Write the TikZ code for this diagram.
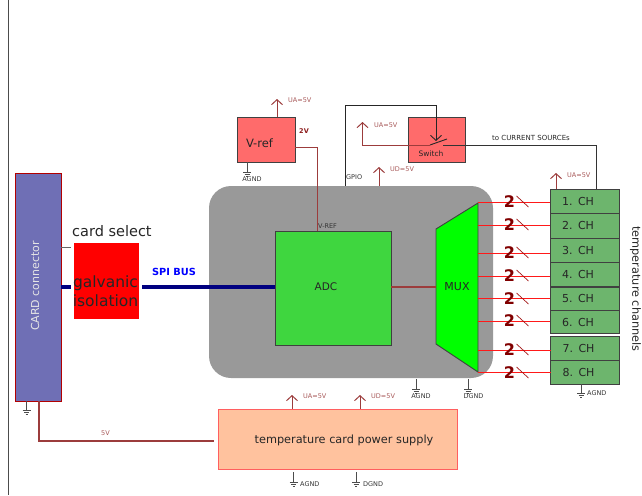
\documentclass[tikz,border=0pt]{standalone}
\usepackage{fontspec}
\setmainfont{DejaVu Sans}
\usetikzlibrary{arrows.meta}
\definecolor{darkwire}{HTML}{8B1A1A}
\definecolor{palewire}{HTML}{A85A5A}
\definecolor{boxred}{HTML}{FF6B6B}
\definecolor{boxborder}{HTML}{FF5F5F}
\definecolor{chgreen}{HTML}{6DB56D}
\definecolor{adcgreen}{HTML}{3FD63F}
\definecolor{cardblue}{HTML}{6F6FB5}
\definecolor{supply}{HTML}{FFC29E}
\tikzset{
  block/.style={draw=black!75,line width=0.9pt,inner sep=0pt,outer sep=0pt,text=black!85},
  chbox/.style={block,fill=chgreen,minimum width=69pt,text width=45pt,align=left,font=\fontsize{11}{12}\selectfont},
  tiny/.style={inner sep=0pt,font=\fontsize{6.5}{7}\selectfont,text=black!80},
  volt/.style={tiny,text=palewire},
  uparrow/.style={draw=darkwire!85,line width=1pt,-{Straight Barb[length=5pt,width=11pt]}},
  wire/.style={draw=darkwire!85,line width=0.9pt},
  chline/.style={draw=red!90,line width=1pt},
  two/.style={inner sep=0pt,text=red!50!black,font=\bfseries\fontsize{16}{17}\selectfont},
  notch/.style={draw=darkwire!80!red,line width=0.7pt},
  gndline/.style={draw=black!70,line width=0.9pt},
  gndbars/.pic={
    \draw[gndline] (-4,0) -- (4,0);
    \draw[gndline] (-2.5,2) -- (2.5,2);
    \draw[gndline] (-1,4) -- (1,4);
  }
}
\begin{document}
\begin{tikzpicture}[x=1pt,y=-1pt]
\useasboundingbox (0,0) rectangle (642,495);
\coordinate (edgetop) at (8,0);
\coordinate (edgebot) at (8,495);
\draw[black!70,line width=1pt] (edgetop) -- (edgebot);

% main board
\node[inner sep=0pt,fill=black!40,rounded corners=22pt,minimum width=284pt,minimum height=192pt] (board) at (351,282) {};
\node[block,fill=adcgreen,minimum width=116pt,minimum height=114pt] (adc) at (333,288) {};
\node[inner sep=0pt,text=black!85,font=\fontsize{10.5}{12}\selectfont] (adctext) at (326,287) {ADC};
\coordinate (muxa) at (436,229);
\coordinate (muxb) at (478,203);
\coordinate (muxc) at (478,372);
\coordinate (muxd) at (436,344);
\draw[block,fill=green] (muxa) -- (muxb) -- (muxc) -- (muxd) -- cycle;
\node[inner sep=0pt,font=\fontsize{11}{12}\selectfont,text=black!85] (mux) at (457,287) {MUX};
\coordinate (adcout) at (436,287);
\draw[wire,line width=2pt] (adc.east |- adcout) -- (adcout);

% left side
\node[draw=red!70!black,line width=0.9pt,fill=cardblue,inner sep=0pt,minimum width=46pt,minimum height=228pt] (card) at (38,287) {};
\node[inner sep=0pt,rotate=90,text=black!10,font=\fontsize{11}{12}\selectfont] (cardtext) at (35,286) {CARD connector};
\node[fill=red,inner sep=0pt,minimum width=65pt,minimum height=76pt] (iso) at (106.5,281) {};
\node[inner sep=0pt,align=center,text=black!85,font=\fontsize{15.5}{19}\selectfont] (isotext) at (105.5,291) {galvanic\\isolation};
\node[inner sep=0pt,anchor=west,text=black!85,font=\fontsize{14.5}{16}\selectfont] (select) at (72,231) {card select};
\coordinate (selectend) at (71,247);
\draw[black!60,line width=0.6pt] (card.east |- selectend) -- (selectend);
\coordinate (isoleft) at (71,287);
\coordinate (isoright) at (142,287);
\draw[blue!50!black,line width=4.5pt] (card.east |- isoleft) -- (isoleft);
\draw[blue!50!black,line width=4.5pt] (isoright) -- (adc.west |- isoright);
\node[inner sep=0pt,text=blue,font=\bfseries\fontsize{9.8}{11}\selectfont] (spi) at (174,272) {SPI BUS};

% v-ref
\node[block,fill=boxred,minimum width=58pt,minimum height=45pt] (vref) at (266,139.5) {};
\node[inner sep=0pt,text=black!85,font=\fontsize{11.5}{13}\selectfont] (vreftext) at (259.5,143) {V-ref};
\node[inner sep=0pt,text=darkwire,font=\bfseries\fontsize{6.5}{7}\selectfont] (twov) at (304,131) {2V};
\coordinate (vrefcorner) at (317,147);
\draw[wire] (vref.east |- vrefcorner) -- (vrefcorner) -- (vrefcorner |- adc.north);
\node[tiny,anchor=west] (vreflabel) at (318,226) {V-REF};
\coordinate (vrefua) at (277,99);
\draw[uparrow] (vrefua |- vref.north) -- (vrefua);
\node[volt,anchor=west] (vrefuatext) at (288,100.5) {UA=5V};
\coordinate (vrefgnd) at (247,162);
\draw[gndline] (vrefgnd) -- ++(0,10) pic {gndbars};
\node[tiny] (vrefagnd) at (252,179) {AGND};

% switch
\node[block,fill=boxred,minimum width=57pt,minimum height=45pt] (switch) at (436.5,139.5) {};
\node[inner sep=0pt,font=\fontsize{7.5}{8}\selectfont,text=black!85] (switchtext) at (431,154) {Switch};
\coordinate (gpiocorner) at (345.5,105.5);
\coordinate (gpiotop) at (436,105.5);
\coordinate (gpioend) at (436,141);
\draw[black!85,line width=0.9pt,-{Straight Barb[length=5pt,width=11pt]}] (gpiocorner |- board.north) -- (gpiocorner) -- (gpiotop) -- (gpioend);
\node[tiny,anchor=west] (gpio) at (346,177) {GPIO};
\coordinate (swleft) at (430,145);
\coordinate (swlever) at (447,139);
\coordinate (swright) at (443,145);
\coordinate (swua) at (362.5,122);
\draw[uparrow] (swleft) -- (swua |- swleft) -- (swua);
\draw[black!85,line width=0.9pt] (swleft) -- (swlever);
\node[volt,anchor=west] (swuatext) at (374,125.5) {UA=5V};
\coordinate (udtop) at (379,167);
\draw[uparrow] (udtop |- board.north) -- (udtop);
\node[volt,anchor=west] (udtext) at (390,169) {UD=5V};

% channels
\node[chbox,minimum height=24pt] (ch1) at (584.5,201) {1. CH};
\node[chbox,minimum height=25pt] (ch2) at (584.5,225.5) {2. CH};
\node[chbox,minimum height=24pt] (ch3) at (584.5,250) {3. CH};
\node[chbox,minimum height=24pt] (ch4) at (584.5,274) {4. CH};
\node[chbox,minimum height=23pt] (ch5) at (584.5,298.5) {5. CH};
\node[chbox,minimum height=23pt] (ch6) at (584.5,322) {6. CH};
\node[chbox,minimum height=24pt] (ch7) at (585,348) {7. CH};
\node[chbox,minimum height=24pt] (ch8) at (585,372) {8. CH};
\coordinate (cs) at (596,145);
\draw[black!80,line width=0.7pt] (swright) -- (cs) -- (cs |- ch1.north);
\node[tiny,text=black!85,font=\fontsize{7}{8}\selectfont] (cstext) at (531,137.5) {to CURRENT SOURCEs};
\coordinate (chua) at (556,173);
\draw[uparrow] (chua |- ch1.north) -- (chua);
\node[volt,anchor=west] (chuatext) at (567,175) {UA=5V};
\coordinate (chgnd) at (581,384);
\draw[gndline] (chgnd) -- ++(0,9) pic {gndbars};
\node[tiny,anchor=west] (chagnd) at (587,393.5) {AGND};
\node[inner sep=0pt,rotate=-90,text=black!85,font=\fontsize{11.3}{12}\selectfont] (chtext) at (635.5,289) {temperature channels};

\coordinate (m1) at (478,202);
\coordinate (m2) at (478,225);
\coordinate (m3) at (478,253);
\coordinate (m4) at (478,276);
\coordinate (m5) at (478,298);
\coordinate (m6) at (478,321);
\coordinate (m7) at (478,350);
\coordinate (m8) at (478,372);
\draw[chline] (m1) -- (m1 -| ch1.west);
\draw[chline] (m2) -- (m2 -| ch2.west);
\draw[chline] (m3) -- (m3 -| ch3.west);
\draw[chline] (m4) -- (m4 -| ch4.west);
\draw[chline] (m5) -- (m5 -| ch5.west);
\draw[chline] (m6) -- (m6 -| ch6.west);
\draw[chline] (m7) -- (m7 -| ch7.west);
\draw[chline] (m8) -- (m8 -| ch8.west);
\node[two] (n1) at (509.5,202) {2};
\node[two] (n2) at (509.5,225) {2};
\node[two] (n3) at (509.5,253) {2};
\node[two] (n4) at (509.5,276) {2};
\node[two] (n5) at (509.5,299) {2};
\node[two] (n6) at (509.5,321) {2};
\node[two] (n7) at (509.5,350) {2};
\node[two] (n8) at (509.5,373) {2};
\draw[notch] (n1.center) ++(7,-6) -- ++(12,11);
\draw[notch] (n2.center) ++(7,-6) -- ++(12,11);
\draw[notch] (n3.center) ++(7,-6) -- ++(12,11);
\draw[notch] (n4.center) ++(7,-6) -- ++(12,11);
\draw[notch] (n5.center) ++(7,-6) -- ++(12,11);
\draw[notch] (n6.center) ++(7,-6) -- ++(12,11);
\draw[notch] (n7.center) ++(7,-6) -- ++(12,11);
\draw[notch] (n8.center) ++(7,-6) -- ++(12,11);

% board grounds
\coordinate (boardagnd) at (416,379);
\coordinate (boarddgnd) at (468,379);
\draw[gndline] (boardagnd) -- ++(0,10) pic {gndbars};
\draw[gndline] (boarddgnd) -- ++(0,10) pic {gndbars};
\node[tiny] (agndtext) at (421,396) {AGND};
\node[tiny] (dgndtext) at (473.5,396) {DGND};

% power supply
\node[draw=boxborder,line width=1pt,fill=supply,inner sep=0pt,minimum width=239pt,minimum height=60pt] (power) at (337.5,439) {};
\node[inner sep=0pt,text=black!85,font=\fontsize{11.3}{13}\selectfont] (powertext) at (344,440) {temperature card power supply};
\coordinate (fivecorner) at (38.5,440.5);
\coordinate (fiveend) at (214,440.5);
\draw[wire,line width=2pt] (fivecorner |- card.south) -- (fivecorner) -- (fiveend);
\node[volt] (fivev) at (105.5,433) {5V};
\coordinate (cardgnd) at (26.5,401);
\draw[gndline] (cardgnd) -- ++(0,9) pic {gndbars};
\coordinate (powerua) at (292,395);
\coordinate (powerud) at (360,395);
\draw[uparrow] (powerua |- power.north) -- (powerua);
\draw[uparrow] (powerud |- power.north) -- (powerud);
\node[volt,anchor=west] (powerutext) at (303,396.5) {UA=5V};
\node[volt,anchor=west] (powerdtext) at (371,396.5) {UD=5V};
\coordinate (poweragnd) at (293.5,472);
\coordinate (powerdgnd) at (356,472);
\draw[gndline] (poweragnd) -- ++(0,10) pic {gndbars};
\draw[gndline] (powerdgnd) -- ++(0,10) pic {gndbars};
\node[tiny,anchor=west] (agndlow) at (300,484.5) {AGND};
\node[tiny,anchor=west] (dgndlow) at (363,484.5) {DGND};
\end{tikzpicture}
\end{document}
